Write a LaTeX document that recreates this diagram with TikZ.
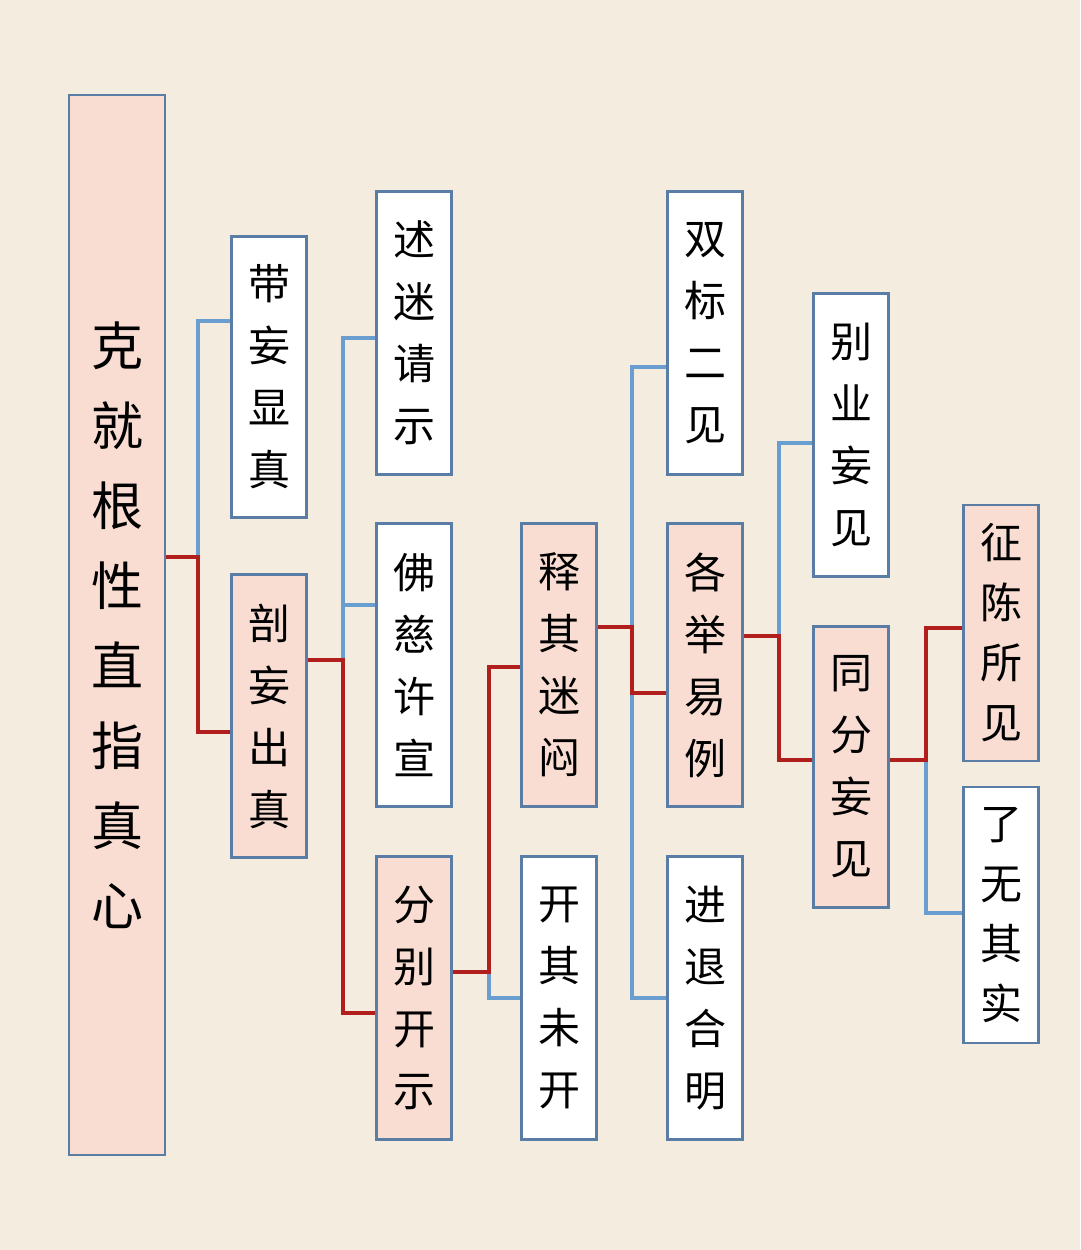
\documentclass[tikz,border=0pt]{standalone}
\usepackage{fontspec}
\setmainfont{Noto Sans CJK SC}
\usepackage{tikz}
\usetikzlibrary{positioning, calc}
\definecolor{bgcol}{HTML}{F3ECDF}
\definecolor{pinkfill}{HTML}{F9DDD2}
\definecolor{boxline}{HTML}{5A7DA6}
\definecolor{redline}{HTML}{B01E1E}
\definecolor{blueline}{HTML}{6A9ED0}
\tikzset{
  box/.style={draw=boxline, line width=2.2pt, fill=white, minimum width=75, align=center,
    inner sep=0pt, font=\fontsize{42}{62}\selectfont},
  pinkbox/.style={box, fill=pinkfill},
  mainlink/.style={draw=redline, line width=3.2pt},
  sidelink/.style={draw=blueline, line width=3.2pt}
}
\begin{document}
\begin{tikzpicture}[x=1pt,y=-1pt]
\fill[bgcol] (0,0) rectangle (1080,1250);
\useasboundingbox (0,0) rectangle (1080,1250);
% boxes
\node[pinkbox, minimum width=96, minimum height=1060, font=\fontsize{52}{80}\selectfont] (root) at (117,625) {克\\就\\根\\性\\直\\指\\真\\心};
\node[box, minimum height=281] (daiwang) at (269,377) {带\\妄\\显\\真};
\node[pinkbox, minimum height=283] (pouwang) at (269,716) {剖\\妄\\出\\真};
\node[box, minimum height=283] (shumi) at (414,333) {述\\迷\\请\\示};
\node[box, minimum height=283] (foci) at (414,665) {佛\\慈\\许\\宣};
\node[pinkbox, minimum height=283] (fenbie) at (414,998) {分\\别\\开\\示};
\node[pinkbox, minimum height=283] (shiqi) at (559,665) {释\\其\\迷\\闷};
\node[box, minimum height=283] (kaiqi) at (559,998) {开\\其\\未\\开};
\node[box, minimum height=283] (shuangbiao) at (705,333) {双\\标\\二\\见};
\node[pinkbox, minimum height=283] (geju) at (705,665) {各\\举\\易\\例};
\node[box, minimum height=283] (jintui) at (705,998) {进\\退\\合\\明};
\node[box, minimum height=283] (bieye) at (851,435) {别\\业\\妄\\见};
\node[pinkbox, minimum height=281] (tongfen) at (851,767) {同\\分\\妄\\见};
\node[pinkbox, minimum height=256, font=\fontsize{42}{60}\selectfont] (zhengchen) at (1001,633) {征\\陈\\所\\见};
\node[box, minimum height=256, font=\fontsize{42}{60}\selectfont] (liaowu) at (1001,915) {了\\无\\其\\实};
% junctions
\coordinate (j1) at (198,557);
\coordinate (j2) at (343,660);
\coordinate (j3) at (489,972);
\coordinate (j4) at (632,627);
\coordinate (j5) at (779,636);
\coordinate (j6) at (926,760);
% blue links
\draw[sidelink] (j1) |- (daiwang.west |- 0,321);
\draw[sidelink] (j2) |- (shumi.west |- 0,338);
\draw[sidelink] (j2 |- 0,605) -- (foci.west |- 0,605);
\draw[sidelink] (j3) |- (kaiqi.west |- 0,998);
\draw[sidelink] (j4) |- (shuangbiao.west |- 0,367);
\draw[sidelink] (j4 |- 0,693) |- (jintui.west |- 0,998);
\draw[sidelink] (j5) |- (bieye.west |- 0,443);
\draw[sidelink] (j6) |- (liaowu.west |- 0,913);
% red links
\draw[mainlink] (root.east |- j1) -- (j1) |- (pouwang.west |- 0,732);
\draw[mainlink] (pouwang.east |- j2) -- (j2) |- (fenbie.west |- 0,1013);
\draw[mainlink] (fenbie.east |- j3) -- (j3) |- (shiqi.west |- 0,667);
\draw[mainlink] (shiqi.east |- j4) -- (j4) |- (geju.west |- 0,693);
\draw[mainlink] (geju.east |- j5) -- (j5) |- (tongfen.west |- 0,760);
\draw[mainlink] (tongfen.east |- j6) -- (j6) |- (zhengchen.west |- 0,628);
\end{tikzpicture}
\end{document}
